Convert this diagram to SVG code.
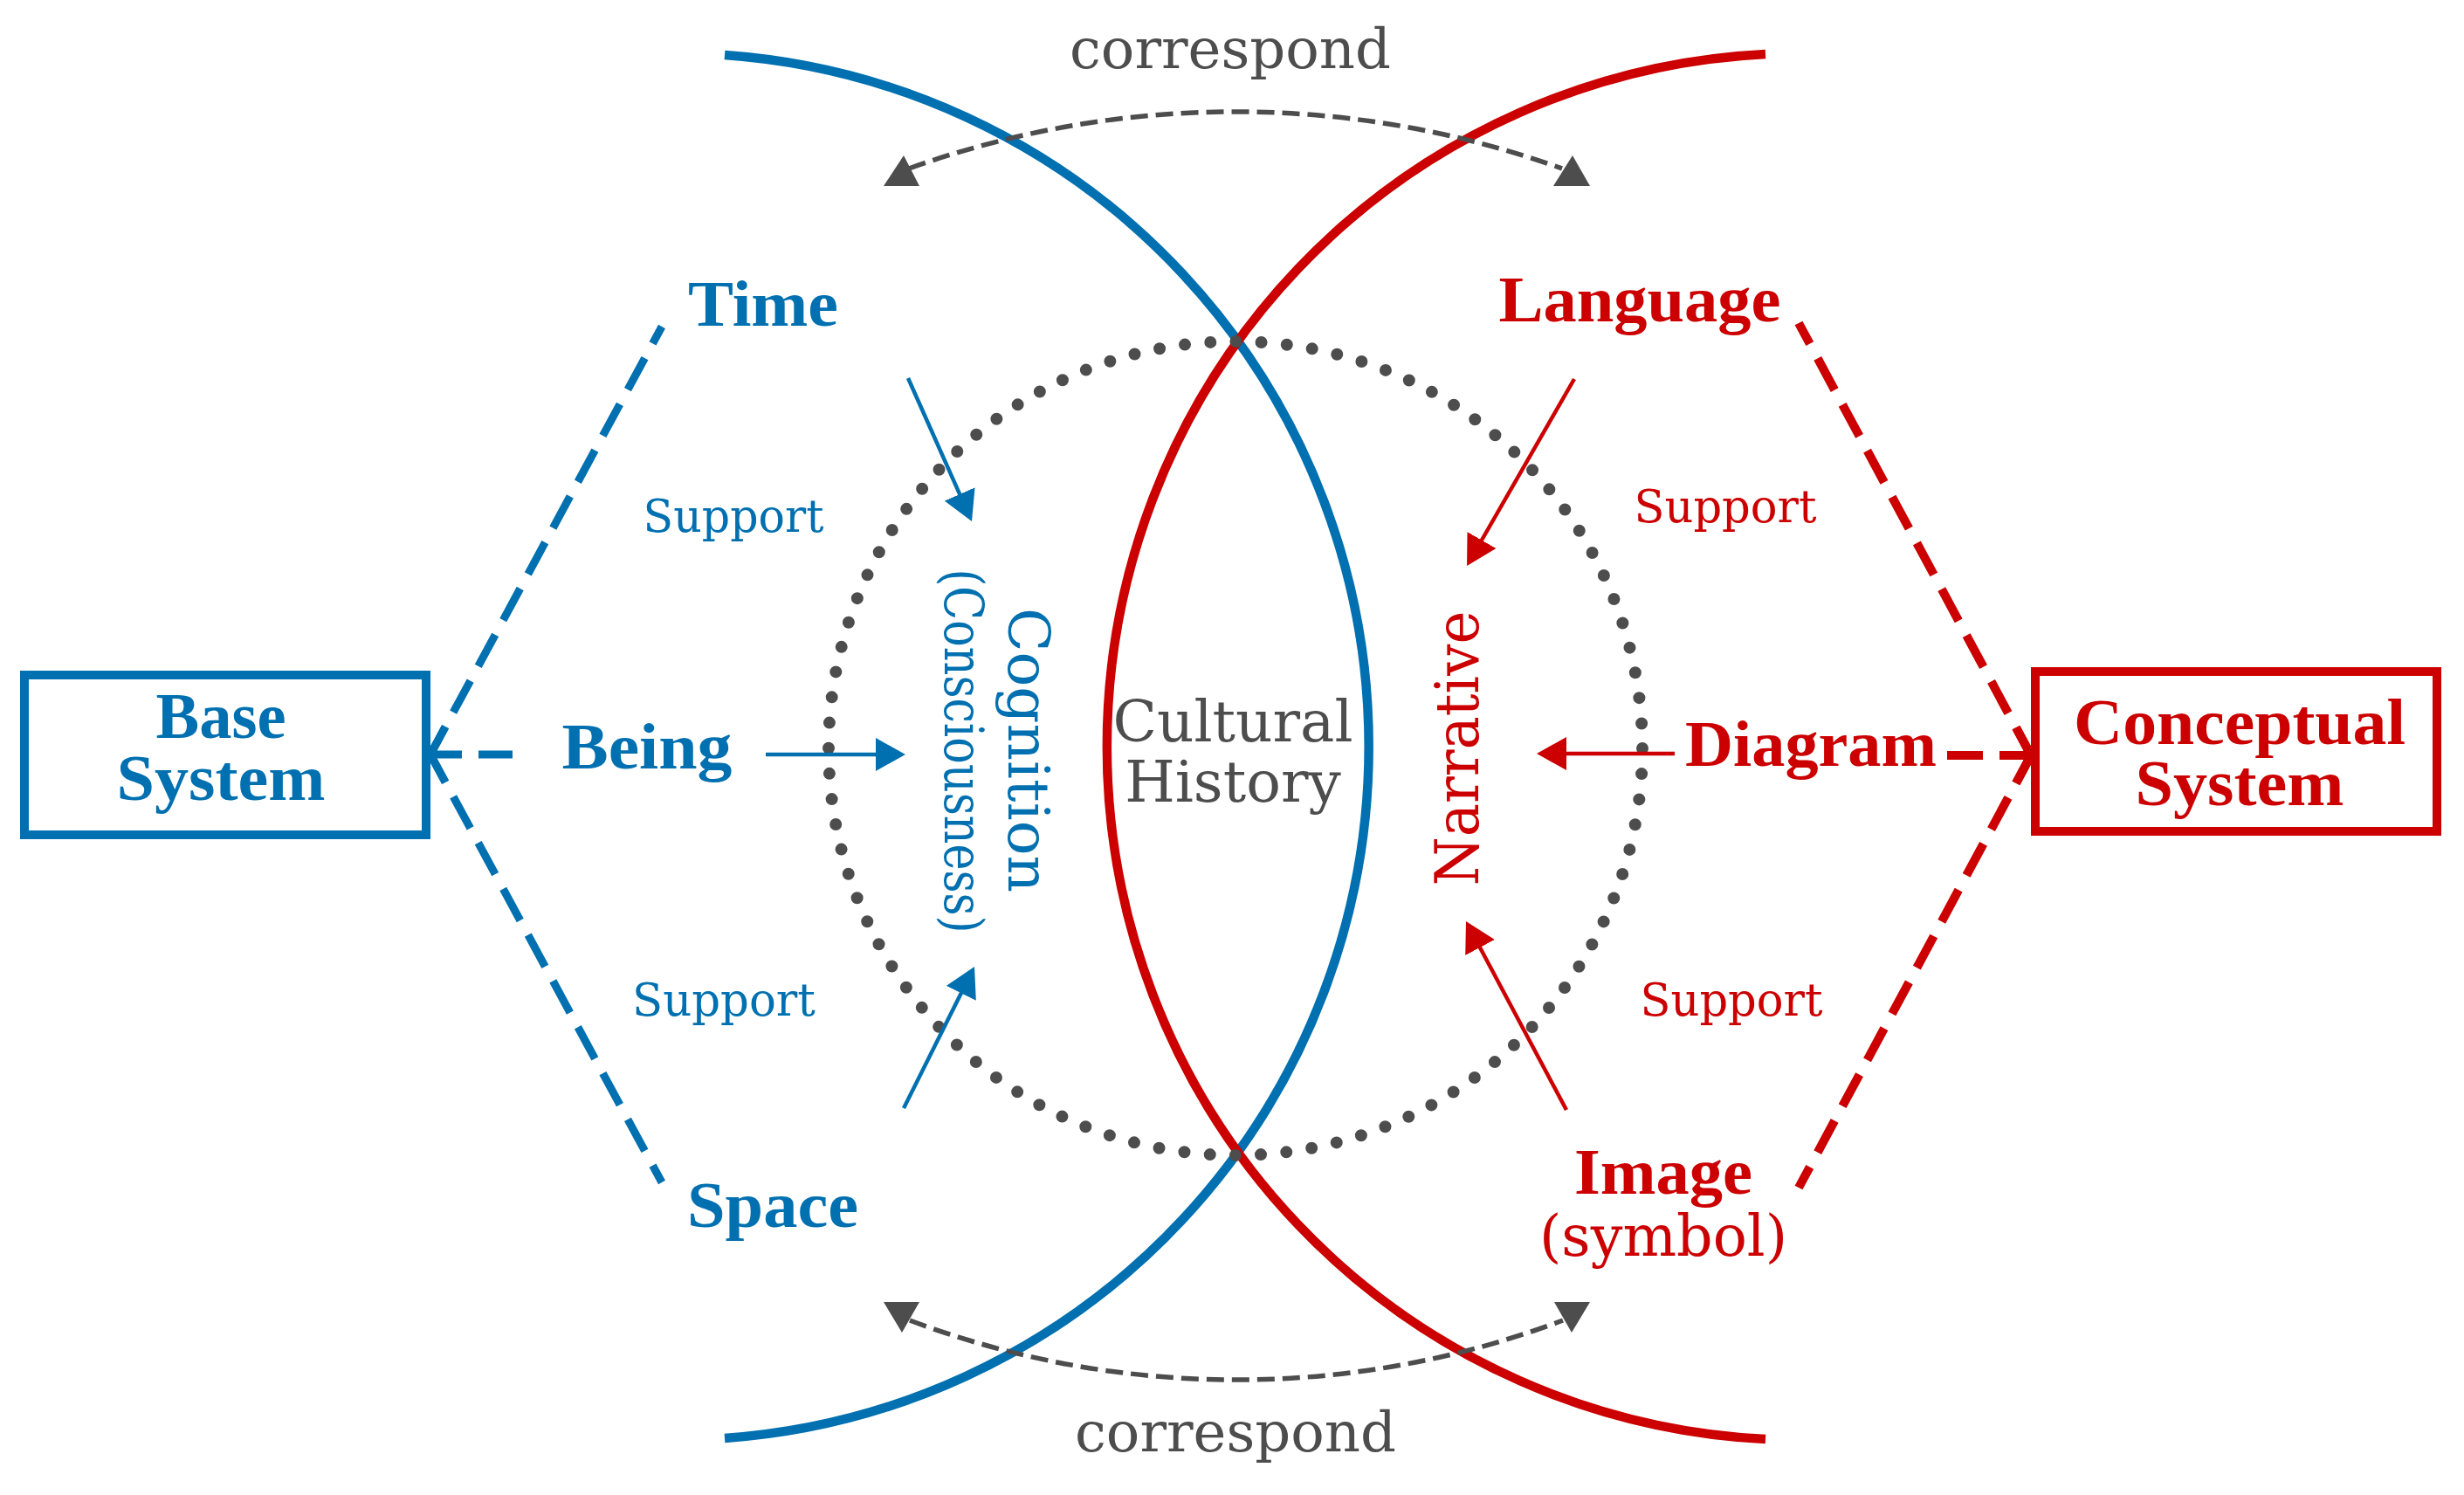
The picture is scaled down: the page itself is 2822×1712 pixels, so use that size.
<svg xmlns="http://www.w3.org/2000/svg" width="2822" height="1712" viewBox="0 0 2822 1712">
  <style>
    .bg { fill: #ffffff; }
    .blue { fill: #0070B0; }
    .red { fill: #CC0000; }
    .gray { fill: #4d4d4d; }
    .bold { font-family: "Liberation Serif", "Times New Roman", serif; font-weight: bold; font-size: 74px; text-anchor: middle; }
    .reg { font-family: "DejaVu Serif", "Liberation Serif", serif; font-weight: normal; text-anchor: middle; }
    .sup { font-size: 52px; }
    .box-b { fill: #ffffff; stroke: #0070B0; stroke-width: 10; }
    .box-r { fill: #ffffff; stroke: #CC0000; stroke-width: 10; }
    .arc-b { fill: none; stroke: #0070B0; stroke-width: 10.5; }
    .arc-r { fill: none; stroke: #CC0000; stroke-width: 10.5; }
    .dots { fill: none; stroke: #4d4d4d; stroke-width: 14; stroke-linecap: round; stroke-dasharray: 0 29.28; }
    .dash-b { fill: none; stroke: #0070B0; stroke-width: 9; stroke-dasharray: 41 19; stroke-dashoffset: 5; }
    .dash-r { fill: none; stroke: #CC0000; stroke-width: 10; stroke-dasharray: 41 19; stroke-dashoffset: 5; }
    .chev-b { fill: none; stroke: #0070B0; stroke-width: 9; stroke-linejoin: miter; }
    .chev-r { fill: none; stroke: #CC0000; stroke-width: 10; stroke-linejoin: miter; }
    .solid-b { fill: none; stroke: #0070B0; stroke-width: 4.5; marker-end: url(#ahb); }
    .solid-r { fill: none; stroke: #CC0000; stroke-width: 4.5; marker-end: url(#ahr); }
    .corr { fill: none; stroke: #4d4d4d; stroke-width: 5.5; stroke-dasharray: 20 9; }
  </style>
  <defs>
    <marker id="ahb" viewBox="0 0 34 38" refX="4" refY="19" markerWidth="34" markerHeight="38" markerUnits="userSpaceOnUse" orient="auto">
      <path d="M0,0 L34,19 L0,38 z" fill="#0070B0"/>
    </marker>
    <marker id="ahr" viewBox="0 0 34 38" refX="4" refY="19" markerWidth="34" markerHeight="38" markerUnits="userSpaceOnUse" orient="auto">
      <path d="M0,0 L34,19 L0,38 z" fill="#CC0000"/>
    </marker>
  </defs>

  <rect class="bg" x="0" y="0" width="2822" height="1712"/>

  <!-- background shapes: two big arcs and dotted circle -->
  <g id="shapes">
    <path class="arc-b" d="M830,63 A794,794 0 0 1 830,1647"/>
    <path class="arc-r" d="M2022,62 A794,794 0 0 0 2022,1648"/>
    <circle class="dots" cx="1415" cy="857" r="466"/>
  </g>

  <!-- connectors -->
  <g id="connectors">
    <!-- correspond arcs -->
    <path class="corr" d="M1041,193 A1108,1108 0 0 1 1789,193"/>
    <polygon class="gray" points="1035,178 1012,213 1053,213"/>
    <polygon class="gray" points="1801,178 1779,213 1821,213"/>
    <path class="corr" d="M1042,1512 A1062,1062 0 0 0 1790,1512"/>
    <polygon class="gray" points="1012,1491 1053,1491 1033,1526"/>
    <polygon class="gray" points="1780,1491 1821,1491 1800,1526"/>

    <!-- blue dashed to Base System -->
    <path class="dash-b" d="M493,864 L758,374"/>
    <path class="dash-b" d="M493,864 L758,1354"/>
    <path class="dash-b" d="M493,864 L587,864"/>
    <polyline class="chev-b" points="510,832 493,864 510,896"/>

    <!-- red dashed to Conceptual System -->
    <path class="dash-r" d="M2326,865 L2060,370"/>
    <path class="dash-r" d="M2326,865 L2060,1360"/>
    <path class="dash-r" d="M2326,865 L2224,865"/>
    <polyline class="chev-r" points="2309,833 2326,865 2309,897"/>

    <!-- blue support arrows -->
    <line class="solid-b" x1="1040" y1="433" x2="1100.8" y2="569.6"/>
    <line class="solid-b" x1="877" y1="864" x2="1007" y2="864"/>
    <line class="solid-b" x1="1035" y1="1269" x2="1102.6" y2="1133.8"/>

    <!-- red support arrows -->
    <line class="solid-r" x1="1803" y1="434" x2="1695" y2="622"/>
    <line class="solid-r" x1="1918" y1="863" x2="1790" y2="863"/>
    <line class="solid-r" x1="1794" y1="1271" x2="1693.1" y2="1081.5"/>
  </g>

  <!-- nodes -->
  <g id="base-system">
    <rect class="box-b" x="28" y="773" width="460" height="183"/>
    <text class="bold blue" x="253" y="845" textLength="149" lengthAdjust="spacingAndGlyphs">Base</text>
    <text class="bold blue" x="253" y="916" textLength="239" lengthAdjust="spacingAndGlyphs">System</text>
  </g>

  <g id="conceptual-system">
    <rect class="box-r" x="2331" y="769" width="460" height="183"/>
    <text class="bold red" x="2565" y="852" textLength="380" lengthAdjust="spacingAndGlyphs">Conceptual</text>
    <text class="bold red" x="2565" y="922" textLength="239" lengthAdjust="spacingAndGlyphs">System</text>
  </g>

  <g id="time">
    <text class="bold blue" x="874" y="373" textLength="172" lengthAdjust="spacingAndGlyphs">Time</text>
  </g>
  <g id="being">
    <text class="bold blue" x="741" y="880" textLength="195" lengthAdjust="spacingAndGlyphs">Being</text>
  </g>
  <g id="space">
    <text class="bold blue" x="885" y="1405" textLength="196" lengthAdjust="spacingAndGlyphs">Space</text>
  </g>

  <g id="language">
    <text class="bold red" x="1878" y="368" textLength="323" lengthAdjust="spacingAndGlyphs">Language</text>
  </g>
  <g id="diagram">
    <text class="bold red" x="2074" y="877" textLength="288" lengthAdjust="spacingAndGlyphs">Diagram</text>
  </g>
  <g id="image">
    <text class="bold red" x="1905" y="1367" textLength="204" lengthAdjust="spacingAndGlyphs">Image</text>
    <text class="reg red" x="1905" y="1438" font-size="65" textLength="284" lengthAdjust="spacingAndGlyphs">(symbol)</text>
  </g>

  <g id="support-labels">
    <text class="reg sup blue" x="840" y="609" textLength="207" lengthAdjust="spacingAndGlyphs">Support</text>
    <text class="reg sup blue" x="829" y="1163" textLength="210" lengthAdjust="spacingAndGlyphs">Support</text>
    <text class="reg sup red" x="1976" y="598" textLength="209" lengthAdjust="spacingAndGlyphs">Support</text>
    <text class="reg sup red" x="1983" y="1163" textLength="209" lengthAdjust="spacingAndGlyphs">Support</text>
  </g>

  <g id="cognition">
    <text class="reg blue" font-size="66" transform="translate(1155,859) rotate(90)" x="0" y="0" textLength="326" lengthAdjust="spacingAndGlyphs">Cognition</text>
    <text class="reg blue" font-size="62" transform="translate(1082,860) rotate(90)" x="0" y="0" textLength="417" lengthAdjust="spacingAndGlyphs">(Consciousness)</text>
  </g>

  <g id="narrative">
    <text class="reg red" font-size="70" transform="translate(1693,857) rotate(-90)" x="0" y="0" textLength="315" lengthAdjust="spacingAndGlyphs">Narrative</text>
  </g>

  <g id="cultural-history">
    <text class="reg gray" font-size="66" x="1412" y="849">Cultural</text>
    <text class="reg gray" font-size="66" x="1412" y="918">History</text>
  </g>

  <g id="correspond-top">
    <text class="reg gray" font-size="64" x="1409" y="78">correspond</text>
  </g>
  <g id="correspond-bottom">
    <text class="reg gray" font-size="64" x="1415" y="1662">correspond</text>
  </g>
</svg>
